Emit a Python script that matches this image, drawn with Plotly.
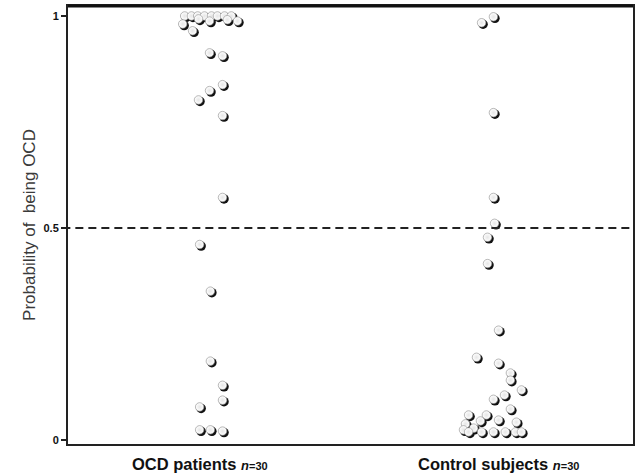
import plotly.graph_objects as go

# ---- data ----
categories = ["OCD patients", "Control subjects"]
group_n = [30, 30]
label_x = [0.966, 2.024]
ocd_x = [0.913, 0.937, 0.959, 0.983, 1.008, 1.029, 1.054, 1.078,
         1.100, 1.001, 0.906, 1.064, 0.941, 0.962,
         1.001, 1.047,
         1.047, 1.001, 0.962,
         1.047,
         1.047, 0.966, 1.004, 1.004, 1.047, 1.047, 0.966,
         0.966, 1.004, 1.047]
ocd_prob = [1.000, 1.000, 1.000, 1.000, 1.000, 1.000, 1.000, 1.000,
            0.988, 0.988, 0.981, 0.991, 0.965, 0.993,
            0.913, 0.906,
            0.838, 0.824, 0.802,
            0.765,
            0.572, 0.461, 0.351, 0.186, 0.129, 0.094, 0.078,
            0.024, 0.024, 0.021]
ctrl_x = [1.964, 2.006, 2.006, 2.006, 2.010, 1.985, 1.985,
          2.024, 1.946, 2.024, 2.066, 2.066, 2.105, 2.045, 2.006, 2.066,
          1.918, 1.981, 2.024, 1.960, 2.087, 1.907, 1.936,
          1.900, 1.918, 1.964, 2.006, 2.048, 2.084, 2.105]
ctrl_prob = [0.984, 0.998, 0.772, 0.572, 0.511, 0.478, 0.416,
             0.259, 0.195, 0.181, 0.158, 0.141, 0.118, 0.106, 0.096, 0.073,
             0.059, 0.059, 0.047, 0.045, 0.042, 0.038, 0.028,
             0.024, 0.019, 0.019, 0.019, 0.019, 0.019, 0.019]
y_ticks = [0, 0.5, 1]
y_tick_labels = ["0", "0.5", "1"]
threshold = 0.5

# ---- layout constants ----
W, H = 639, 476
ml, mr, mt, mb = 68, 4, 5, 32
x_range = [0.5, 2.5]
y_range = [-0.0094, 1.0235]
px_x = (W - ml - mr) / (x_range[1] - x_range[0])
px_y = (H - mt - mb) / (y_range[1] - y_range[0])
sdx, sdy = 1.5 / px_x, -1.5 / px_y

all_x = ocd_x + ctrl_x
all_y = ocd_prob + ctrl_prob

fig = go.Figure()
# shadow
fig.add_trace(go.Scatter(
    x=[v + sdx for v in all_x], y=[v + sdy for v in all_y], mode="markers",
    marker=dict(size=9.5, color="#111111", line=dict(width=0)),
    hoverinfo="skip", showlegend=False))
# balls
fig.add_trace(go.Scatter(
    x=all_x, y=all_y, mode="markers",
    marker=dict(size=8.5, color="white",
                gradient=dict(type="radial", color="#e6e6e6"),
                line=dict(width=0.6, color="#8a8a8a")),
    showlegend=False))

fig.add_shape(type="line", xref="paper", yref="y", x0=-0.01, x1=1,
              y0=threshold, y1=threshold,
              line=dict(color="#222", width=2, dash="8px,5px"))
fig.add_shape(type="line", xref="paper", yref="paper", x0=0, x1=1, y0=1, y1=1,
              line=dict(color="#111", width=3))

for cx, c, n in zip(label_x, categories, group_n):
    fig.add_annotation(
        x=cx, xref="x", y=0, yref="paper", yanchor="top", xanchor="center",
        yshift=-9, showarrow=False,
        text=(f"<b>{c} </b><span style='font-size:13px'><b><i>n</i></b></span>"
              f"<span style='font-size:11px'><b>={n}</b></span>"),
        font=dict(size=16.5, color="#111"))

fig.update_layout(
    width=W, height=H,
    margin=dict(l=ml, r=mr, t=mt, b=mb),
    paper_bgcolor="white", plot_bgcolor="white",
    font=dict(family="Liberation Sans, Arial, sans-serif", color="#111"),
    xaxis=dict(range=x_range, showticklabels=False,
               showgrid=False, zeroline=False, showline=True, linewidth=2,
               linecolor="#222", mirror=True, ticks=""),
    yaxis=dict(range=y_range, tickvals=y_ticks, ticktext=[f"<b>{t}</b>" for t in y_tick_labels],
               showgrid=False, zeroline=False, showline=True, linewidth=2,
               linecolor="#222", mirror=True, ticks="outside", ticklen=5,
               tickwidth=1.5, tickcolor="#222", tickfont=dict(size=11),
               title=dict(text="Probability of  being OCD", font=dict(size=17, color="#3a3a3a"),
                          standoff=4)),
)

fig.write_html("out.html")
